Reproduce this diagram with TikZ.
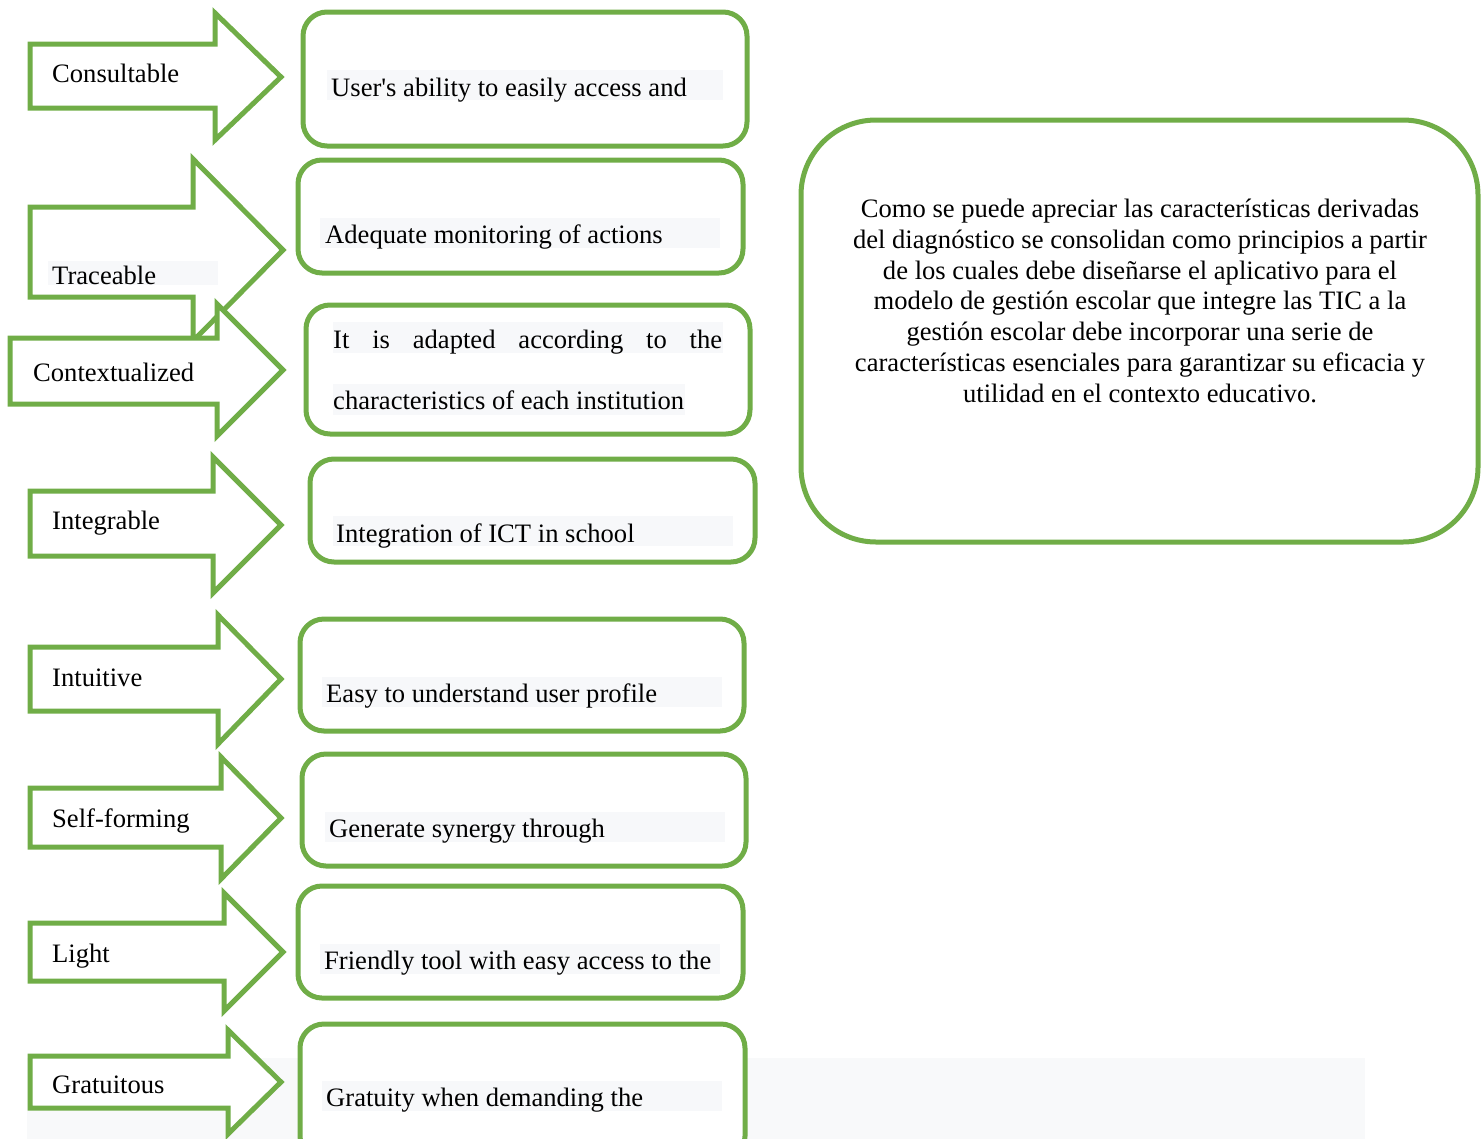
\documentclass[tikz,border=0pt]{standalone}
\usepackage{fontspec}
\setmainfont{Liberation Serif}
\newfontfamily\qfont{Liberation Serif}[Ligatures=TeXOff]
\definecolor{gr}{RGB}{112,173,71}
\definecolor{hl}{RGB}{247,248,250}
\definecolor{bg}{RGB}{248,249,250}
\begin{document}
\begin{tikzpicture}[x=1pt,y=-1pt,
  shp/.style={draw=gr,line width=5pt,fill=white,line join=miter},
  box/.style={draw=gr,line width=5pt,fill=white,rounded corners=24pt},
  txt/.style={anchor=base west,inner sep=0pt,font=\fontsize{26.6}{30.7}\selectfont}]
\useasboundingbox (0,0) rectangle (1482,1138);
\fill[bg] (27,1058) rectangle (1365,1140);
% arrows
\draw[shp] (30,44) -- (215,44) -- (215,13) -- (281,77) -- (215,140) -- (215,108) -- (30,108) -- cycle;
\draw[shp] (30,207) -- (193,207) -- (193,159) -- (283,250) -- (193,341) -- (193,297) -- (30,297) -- cycle;
\draw[shp] (10,338) -- (217,338) -- (217,304) -- (283,370) -- (217,436) -- (217,404) -- (10,404) -- cycle;
\draw[shp] (30,491) -- (213,491) -- (213,457) -- (281,525) -- (213,593) -- (213,556) -- (30,556) -- cycle;
\draw[shp] (30,647) -- (218,647) -- (218,615) -- (281,679) -- (218,744) -- (218,711) -- (30,711) -- cycle;
\draw[shp] (30,788) -- (221,788) -- (221,757) -- (281,818) -- (221,879) -- (221,847) -- (30,847) -- cycle;
\draw[shp] (30,923) -- (224,923) -- (224,893) -- (283,952) -- (224,1011) -- (224,981) -- (30,981) -- cycle;
\draw[shp] (30,1056) -- (228,1056) -- (228,1030) -- (281,1082) -- (228,1134) -- (228,1108) -- (30,1108) -- cycle;
% labels
\node[txt] (l1) at (52,82) {Consultable};
\fill[hl] (48,261) rectangle (218,285);
\node[txt] (l2) at (52,284) {Traceable};
\node[txt] (l3) at (33,381) {Contextualized};
\node[txt] (l4) at (52,529) {Integrable};
\node[txt] (l5) at (52,686) {Intuitive};
\node[txt] (l6) at (52,827) {Self-forming};
\node[txt] (l7) at (52,962) {Light};
\node[txt] (l8) at (52,1093) {Gratuitous};
% boxes
\draw[box] (303,12) rectangle (747,146);
\draw[box] (298,160) rectangle (743,273);
\draw[box] (306,305) rectangle (750,434);
\draw[box] (310,459) rectangle (755,562);
\draw[box] (300,619) rectangle (744,731);
\draw[box] (302,754) rectangle (746,866);
\draw[box] (298,886) rectangle (743,998);
\draw[box] (300,1024) rectangle (745,1160);
% highlights
\fill[hl] (327,70) rectangle (723,100);
\fill[hl] (320,218) rectangle (720,248);
\fill[hl] (333,322) rectangle (723,353);
\fill[hl] (333,384) rectangle (685,415);
\fill[hl] (333,516) rectangle (733,546);
\fill[hl] (322,677) rectangle (722,707);
\fill[hl] (325,812) rectangle (725,842);
\fill[hl] (320,944) rectangle (720,974);
\fill[hl] (322,1081) rectangle (722,1111);
% box texts
\node[txt] (t1) at (331,96) {User{\qfont '}s ability to easily access and};
\node[txt] (t2) at (325,243) {Adequate monitoring of actions};
\node[txt] (t3a) at (333,348) {\makebox[389pt][s]{It is adapted according to the}};
\node[txt] (t3b) at (333,409) {characteristics of each institution};
\node[txt] (t4) at (336,542) {Integration of ICT in school};
\node[txt] (t5) at (326,702) {Easy to understand user profile};
\node[txt] (t6) at (329,837) {Generate synergy through};
\node[txt] (t7) at (324,969) {Friendly tool with easy access to the};
\node[txt] (t8) at (326,1106) {Gratuity when demanding the};
% big box
\draw[box,rounded corners=75pt] (801,120) rectangle (1478,542);
\node[anchor=base,inner sep=0pt,align=center,font=\fontsize{26.6}{30.7}\selectfont] (big) at (1140,402) {Como se puede apreciar las características derivadas\\del diagnóstico se consolidan como principios a partir\\de los cuales debe diseñarse el aplicativo para el\\modelo de gestión escolar que integre las TIC a la\\gestión escolar debe incorporar una serie de\\características esenciales para garantizar su eficacia y\\utilidad en el contexto educativo.};
\end{tikzpicture}
\end{document}
